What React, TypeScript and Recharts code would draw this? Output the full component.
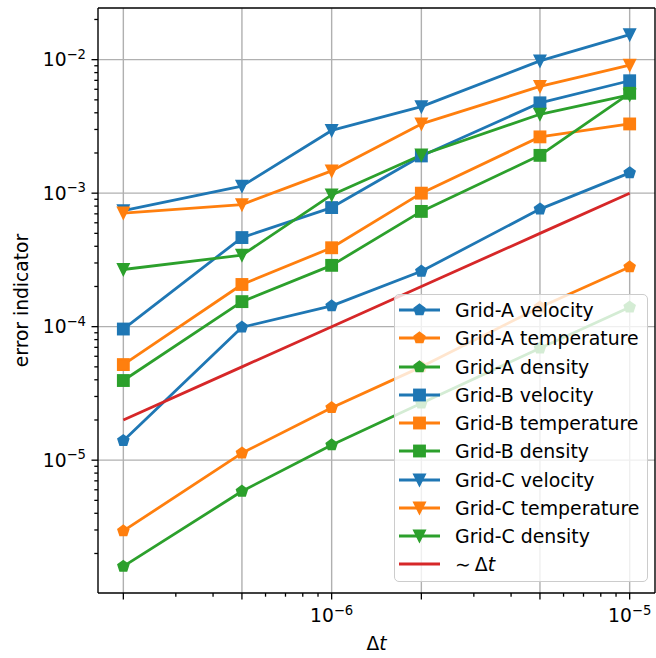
import React from "react";
import { ComposedChart, Line, XAxis, YAxis, ReferenceLine } from "recharts";

// time steps (x) shared by every series
const DT = [2e-7, 5e-7, 1e-6, 2e-6, 5e-6, 1e-5];

const GRID_A_VELOCITY = [1.4e-5, 9.9e-5, 1.43e-4, 2.6e-4, 7.6e-4, 1.42e-3];
const GRID_A_TEMPERATURE = [2.95e-6, 1.13e-5, 2.47e-5, 5.0e-5, 1.4e-4, 2.8e-4];
const GRID_A_DENSITY = [1.6e-6, 5.85e-6, 1.3e-5, 2.67e-5, 6.9e-5, 1.4e-4];
const GRID_B_VELOCITY = [9.6e-5, 4.65e-4, 7.8e-4, 1.9e-3, 4.75e-3, 6.95e-3];
const GRID_B_TEMPERATURE = [5.2e-5, 2.07e-4, 3.9e-4, 1.0e-3, 2.64e-3, 3.3e-3];
const GRID_B_DENSITY = [3.95e-5, 1.54e-4, 2.88e-4, 7.3e-4, 1.92e-3, 5.6e-3];
const GRID_C_VELOCITY = [7.4e-4, 1.13e-3, 2.95e-3, 4.45e-3, 9.8e-3, 1.54e-2];
const GRID_C_TEMPERATURE = [7.1e-4, 8.2e-4, 1.47e-3, 3.3e-3, 6.3e-3, 9.1e-3];
const GRID_C_DENSITY = [2.68e-4, 3.43e-4, 9.7e-4, 1.93e-3, 3.9e-3, 5.45e-3];
// first-order reference slope
const REFERENCE = [2e-5, 5e-5, 1e-4, 2e-4, 5e-4, 1e-3];

const X_GRID = [2e-7, 5e-7, 1e-6, 2e-6, 5e-6, 1e-5];
const X_LABELLED = [1e-6, 1e-5];
const X_MINOR = [3e-7, 4e-7, 6e-7, 7e-7, 8e-7, 9e-7, 3e-6, 4e-6, 6e-6, 7e-6, 8e-6, 9e-6];
const Y_MAJOR = [1e-5, 1e-4, 1e-3, 1e-2];

const X_DOMAIN: [number, number] = [Math.pow(10, -6.784), Math.pow(10, -4.915)];
const Y_DOMAIN: [number, number] = [Math.pow(10, -5.995), Math.pow(10, -1.613)];

const BLUE = "#1f77b4";
const ORANGE = "#ff7f0e";
const GREEN = "#2ca02c";
const RED = "#d62728";
const FONT = "DejaVu Sans, sans-serif";

type MarkerKind = "p" | "s" | "v" | "none";

const SERIES: { name: string; values: number[]; color: string; marker: MarkerKind }[] = [
  { name: "Grid-A velocity", values: GRID_A_VELOCITY, color: BLUE, marker: "p" },
  { name: "Grid-A temperature", values: GRID_A_TEMPERATURE, color: ORANGE, marker: "p" },
  { name: "Grid-A density", values: GRID_A_DENSITY, color: GREEN, marker: "p" },
  { name: "Grid-B velocity", values: GRID_B_VELOCITY, color: BLUE, marker: "s" },
  { name: "Grid-B temperature", values: GRID_B_TEMPERATURE, color: ORANGE, marker: "s" },
  { name: "Grid-B density", values: GRID_B_DENSITY, color: GREEN, marker: "s" },
  { name: "Grid-C velocity", values: GRID_C_VELOCITY, color: BLUE, marker: "v" },
  { name: "Grid-C temperature", values: GRID_C_TEMPERATURE, color: ORANGE, marker: "v" },
  { name: "Grid-C density", values: GRID_C_DENSITY, color: GREEN, marker: "v" },
];

// log minor ticks: 2..9 x 10^k inside the y range
const Y_MINOR: number[] = [];
for (let k = -6; k <= -2; k++) {
  for (let m = 2; m <= 9; m++) {
    const v = m * Math.pow(10, k);
    if (v >= Y_DOMAIN[0] && v <= Y_DOMAIN[1]) Y_MINOR.push(v);
  }
}

const near = (a: number, list: number[]) => list.some((b) => Math.abs(a / b - 1) < 1e-6);
const expOf = (v: number) => Math.round(Math.log10(v));

function Marker({ kind, cx, cy, color }: { kind: MarkerKind; cx: number; cy: number; color: string }) {
  const r = 5.5;
  const common = { fill: color, stroke: color, strokeWidth: 1.85, strokeLinejoin: "miter" as const };
  if (kind === "s") return <rect x={cx - r} y={cy - r} width={2 * r} height={2 * r} {...common} />;
  if (kind === "v")
    return <polygon points={`${cx},${cy + r} ${cx - r},${cy - r} ${cx + r},${cy - r}`} {...common} />;
  if (kind === "p") {
    const pts = [0, 1, 2, 3, 4]
      .map((k) => {
        const a = -Math.PI / 2 + (k * 2 * Math.PI) / 5;
        return `${cx + r * Math.cos(a)},${cy + r * Math.sin(a)}`;
      })
      .join(" ");
    return <polygon points={pts} {...common} />;
  }
  return null;
}

function Power({ v, ...rest }: any) {
  return (
    <text fontFamily={FONT} fontSize={18.7} fill="#000" {...rest}>
      10
      <tspan dy={-7.5} fontSize={13.2}>
        {"\u2212" + Math.abs(expOf(v))}
      </tspan>
    </text>
  );
}

function XTick(props: any) {
  const { x, y, payload } = props;
  const v = payload.value;
  const big = near(v, X_GRID);
  return (
    <g>
      <line x1={x} x2={x} y1={y} y2={y + (big ? 6.5 : 3.7)} stroke="#000" strokeWidth={1.3} />
      {near(v, X_LABELLED) && <Power v={v} x={x} y={y + 29.3} textAnchor="middle" />}
    </g>
  );
}

function YTick(props: any) {
  const { x, y, payload } = props;
  const v = payload.value;
  const big = near(v, Y_MAJOR);
  return (
    <g>
      <line x1={x} x2={x - (big ? 6.5 : 3.7)} y1={y} y2={y} stroke="#000" strokeWidth={1.3} />
      {big && <Power v={v} x={x - 12} y={y + 6.7} textAnchor="end" />}
    </g>
  );
}

const GRID_STROKE = "#b0b0b0";

function LegendBox() {
  const rows = [
    ...SERIES.map((s) => ({ name: s.name as React.ReactNode, color: s.color, marker: s.marker })),
    {
      name: (
        <span>
          {" \u223C"}
          <span style={{ marginLeft: 4 }}>Δ</span>
          <i>t</i>
        </span>
      ),
      color: RED,
      marker: "none" as MarkerKind,
    },
  ];
  return (
    <div
      style={{
        position: "absolute",
        left: 394,
        top: 294,
        width: 254,
        height: 288,
        boxSizing: "border-box",
        background: "rgba(255,255,255,0.8)",
        border: "1.3px solid #cccccc",
        borderRadius: 5,
        paddingTop: 1,
        fontFamily: FONT,
        fontSize: 18.9,
        color: "#000",
      }}
    >
      {rows.map((r, i) => (
        <div key={i} style={{ height: 28.26, display: "flex", alignItems: "center" }}>
          <svg width={41} height={28} style={{ marginLeft: 4, flex: "none" }}>
            <line x1={0} x2={41} y1={14} y2={14} stroke={r.color} strokeWidth={2.8} />
            <Marker kind={r.marker} cx={20.5} cy={14} color={r.color} />
          </svg>
          <span style={{ marginLeft: 15, whiteSpace: "nowrap", lineHeight: "28px" }}>{r.name}</span>
        </div>
      ))}
    </div>
  );
}

export default function App() {
  return (
    <div style={{ position: "absolute", left: 0, top: 0, width: 656, height: 658, background: "#fff" }}>
      <ComposedChart width={656} height={658} margin={{ top: 8, right: 1, left: 0, bottom: 0 }}>
        <XAxis
          dataKey="x"
          type="number"
          scale="log"
          domain={X_DOMAIN}
          allowDataOverflow
          ticks={[...X_GRID, ...X_MINOR]}
          interval={0}
          height={65}
          tickSize={0}
          tickMargin={0}
          tickLine={false}
          axisLine={{ stroke: "#000", strokeWidth: 1.4 }}
          tick={(p: any) => <XTick {...p} />}
          label={{
            content: ({ viewBox }: any) => (
              <text
                x={viewBox.x + viewBox.width / 2}
                y={viewBox.y + 56.5}
                textAnchor="middle"
                fontFamily={FONT}
                fontSize={18.7}
              >
                Δ<tspan fontStyle="italic">t</tspan>
              </text>
            ),
          }}
        />
        <YAxis
          type="number"
          scale="log"
          domain={Y_DOMAIN}
          allowDataOverflow
          ticks={[...Y_MAJOR, ...Y_MINOR]}
          interval={0}
          width={98}
          tickSize={0}
          tickMargin={0}
          tickLine={false}
          axisLine={{ stroke: "#000", strokeWidth: 1.4 }}
          tick={(p: any) => <YTick {...p} />}
          label={{
            content: ({ viewBox }: any) => {
              const cx = viewBox.x + 28;
              const cy = viewBox.y + viewBox.height / 2;
              return (
                <text
                  x={cx}
                  y={cy}
                  textAnchor="middle"
                  transform={`rotate(-90, ${cx}, ${cy})`}
                  fontFamily={FONT}
                  fontSize={18.7}
                >
                  error indicator
                </text>
              );
            },
          }}
        />
        {X_GRID.map((v) => (
          <ReferenceLine key={"gx" + v} x={v} stroke={GRID_STROKE} strokeWidth={1.4} />
        ))}
        {Y_MAJOR.map((v) => (
          <ReferenceLine key={"gy" + v} y={v} stroke={GRID_STROKE} strokeWidth={1.4} />
        ))}
        {/* top and right frame */}
        <ReferenceLine y={Y_DOMAIN[1]} stroke="#000" strokeWidth={1.4} />
        <ReferenceLine x={X_DOMAIN[1]} stroke="#000" strokeWidth={1.4} />
        {SERIES.map((s) => (
          <Line
            key={s.name}
            data={DT.map((x, i) => ({ x, y: s.values[i] }))}
            dataKey="y"
            stroke={s.color}
            strokeWidth={2.8}
            strokeLinejoin="round"
            isAnimationActive={false}
            activeDot={false}
            legendType="none"
            dot={(p: any) => <Marker key={p.index} kind={s.marker} cx={p.cx} cy={p.cy} color={s.color} />}
          />
        ))}
        <Line
          data={DT.map((x, i) => ({ x, y: REFERENCE[i] }))}
          dataKey="y"
          stroke={RED}
          strokeWidth={2.8}
          isAnimationActive={false}
          activeDot={false}
          legendType="none"
          dot={false}
        />
      </ComposedChart>
      <LegendBox />
    </div>
  );
}
